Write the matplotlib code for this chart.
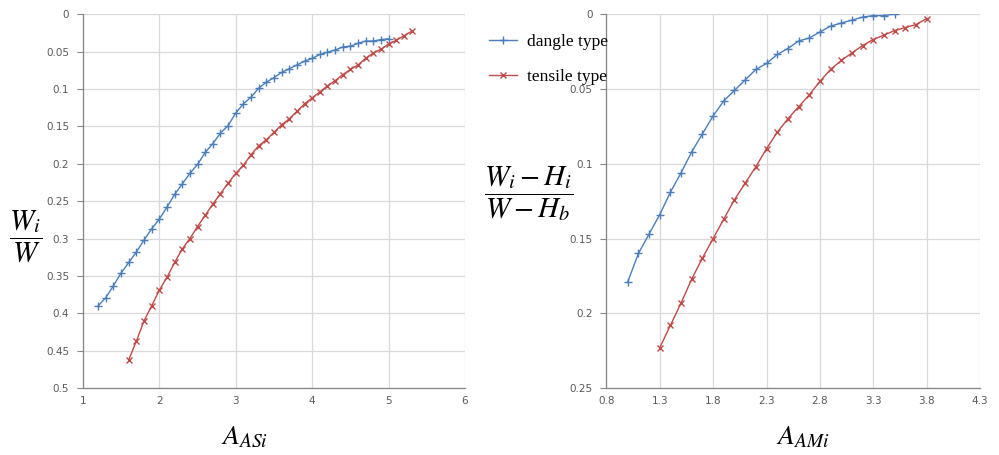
#! /usr/bin/env python

import numpy as np
import matplotlib
matplotlib.use("Agg")
import matplotlib.pyplot as plt
from matplotlib.ticker import FixedLocator

# left panel: W_i / W against A_ASi
asi_dangle = [1.2, 1.3, 1.4, 1.5, 1.6, 1.7, 1.8, 1.9, 2.0, 2.1, 2.2, 2.3, 2.4, 2.5,
              2.6, 2.7, 2.8, 2.9, 3.0, 3.1, 3.2, 3.3, 3.4, 3.5, 3.6, 3.7, 3.8, 3.9,
              4.0, 4.1, 4.2, 4.3, 4.4, 4.5, 4.6, 4.7, 4.8, 4.9, 5.0]
wi_dangle = [0.390, 0.379, 0.363, 0.346, 0.332, 0.318, 0.302, 0.287, 0.274, 0.258,
             0.241, 0.227, 0.213, 0.201, 0.185, 0.173, 0.159, 0.149, 0.132, 0.120,
             0.111, 0.099, 0.091, 0.085, 0.078, 0.073, 0.068, 0.063, 0.059, 0.054,
             0.051, 0.048, 0.044, 0.043, 0.039, 0.036, 0.036, 0.034, 0.033]

asi_tensile = [1.6, 1.7, 1.8, 1.9, 2.0, 2.1, 2.2, 2.3, 2.4, 2.5, 2.6, 2.7, 2.8, 2.9,
               3.0, 3.1, 3.2, 3.3, 3.4, 3.5, 3.6, 3.7, 3.8, 3.9, 4.0, 4.1, 4.2, 4.3,
               4.4, 4.5, 4.6, 4.7, 4.8, 4.9, 5.0, 5.1, 5.2, 5.3]
wi_tensile = [0.462, 0.437, 0.410, 0.390, 0.369, 0.352, 0.332, 0.314, 0.300, 0.284,
              0.269, 0.254, 0.240, 0.226, 0.213, 0.202, 0.188, 0.176, 0.168, 0.158,
              0.148, 0.140, 0.130, 0.120, 0.112, 0.104, 0.096, 0.089, 0.081, 0.074,
              0.068, 0.059, 0.052, 0.047, 0.040, 0.035, 0.029, 0.023]

# right panel: (W_i - H_i)/(W - H_b) against A_AMi
ami_dangle = [1.0, 1.1, 1.2, 1.3, 1.4, 1.5, 1.6, 1.7, 1.8, 1.9, 2.0, 2.1, 2.2, 2.3,
              2.4, 2.5, 2.6, 2.7, 2.8, 2.9, 3.0, 3.1, 3.2, 3.3, 3.4, 3.5]
wh_dangle = [0.179, 0.160, 0.147, 0.134, 0.119, 0.106, 0.092, 0.080, 0.068, 0.058,
             0.051, 0.044, 0.037, 0.033, 0.027, 0.023, 0.018, 0.016, 0.012, 0.008,
             0.006, 0.004, 0.002, 0.001, 0.001, 0.000]

ami_tensile = [1.3, 1.4, 1.5, 1.6, 1.7, 1.8, 1.9, 2.0, 2.1, 2.2, 2.3, 2.4, 2.5, 2.6,
               2.7, 2.8, 2.9, 3.0, 3.1, 3.2, 3.3, 3.4, 3.5, 3.6, 3.7, 3.8]
wh_tensile = [0.223, 0.208, 0.193, 0.177, 0.163, 0.150, 0.137, 0.124, 0.113, 0.102,
              0.090, 0.079, 0.070, 0.062, 0.054, 0.045, 0.037, 0.031, 0.026, 0.021,
              0.017, 0.014, 0.011, 0.009, 0.007, 0.003]

left_xticks = [1, 2, 3, 4, 5, 6]
left_yticks = [0, 0.05, 0.1, 0.15, 0.2, 0.25, 0.3, 0.35, 0.4, 0.45, 0.5]
right_xticks = [0.8, 1.3, 1.8, 2.3, 2.8, 3.3, 3.8, 4.3]
right_yticks = [0, 0.05, 0.1, 0.15, 0.2, 0.25]

legend_names = ["dangle type", "tensile type"]

blue = "#4a7ebb"
red = "#be4b48"
tick_grey = "#595959"

plt.rcParams["mathtext.fontset"] = "stix"


def style_axes(ax, xticks, yticks):
    ax.xaxis.set_major_locator(FixedLocator(xticks))
    ax.yaxis.set_major_locator(FixedLocator(yticks))
    ax.set_xticklabels(["%g" % v for v in xticks])
    ax.set_yticklabels(["%g" % v for v in yticks])
    ax.set_xlim(xticks[0], xticks[-1])
    ax.set_ylim(yticks[-1], yticks[0])
    ax.grid(True, color="#d9d9d9", linewidth=0.9)
    ax.set_axisbelow(True)
    for s in ["top", "right"]:
        ax.spines[s].set_visible(False)
    for s in ["left", "bottom"]:
        ax.spines[s].set_color("#868686")
        ax.spines[s].set_linewidth(0.9)
    ax.tick_params(axis="both", colors="#868686", labelcolor=tick_grey,
                   labelsize=7.5, length=4, width=0.8, pad=6)
    ax.tick_params(axis="x", length=0)
    for lab in ax.get_xticklabels() + ax.get_yticklabels():
        lab.set_family("DejaVu Sans")


fig = plt.figure(figsize=(9.99, 4.55), dpi=100)
ax1 = fig.add_axes([0.083, 0.147, 0.3825, 0.822])
ax2 = fig.add_axes([0.607, 0.147, 0.374, 0.822])

ax1.plot(asi_dangle, wi_dangle, color=blue, lw=1, marker="+", ms=6, mew=1)
ax1.plot(asi_tensile, wi_tensile, color=red, lw=1, marker="x", ms=5, mew=1)
style_axes(ax1, left_xticks, left_yticks)

l1, = ax2.plot(ami_dangle, wh_dangle, color=blue, lw=1, marker="+", ms=6, mew=1)
l2, = ax2.plot(ami_tensile, wh_tensile, color=red, lw=1, marker="x", ms=5, mew=1)
style_axes(ax2, right_xticks, right_yticks)

# axis titles as big serif formulas
fig.text(0.245, 0.04, r"$A_{ASi}$", fontsize=20, ha="center", va="center")
fig.text(0.804, 0.04, r"$A_{AMi}$", fontsize=20, ha="center", va="center")
fig.text(0.026, 0.48, r"$\dfrac{W_i}{W}$", fontsize=21, ha="center", va="center")
fig.text(0.529, 0.575, r"$\dfrac{W_i-H_i}{W-H_b}$", fontsize=21,
         ha="center", va="center")

fig.legend([l1, l2], legend_names, loc="upper left",
           bbox_to_anchor=(0.474, 0.96), frameon=False,
           prop={"family": "Liberation Serif", "size": 12.5},
           handlelength=1.6, labelspacing=1.1, handletextpad=0.6)

plt.savefig("out.png", dpi=100)
